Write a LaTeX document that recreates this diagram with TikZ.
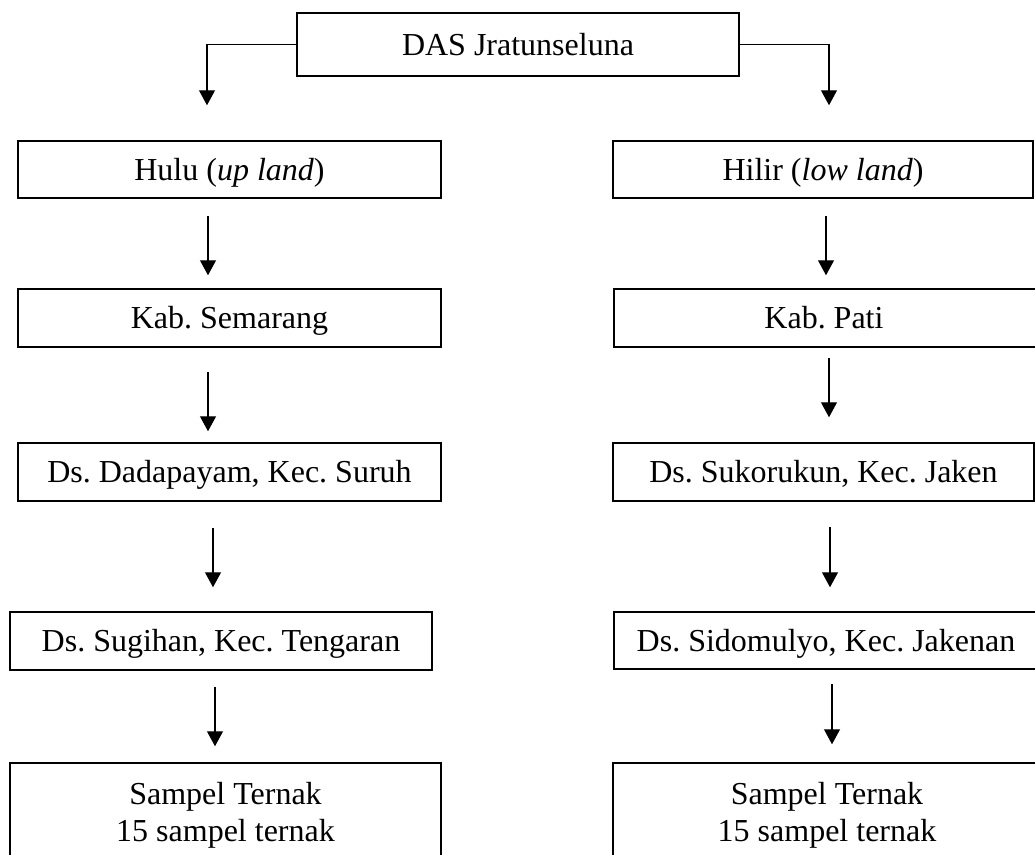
\documentclass[tikz,border=0pt]{standalone}
\usepackage{fontspec}
\setmainfont{Liberation Serif}
\usetikzlibrary{arrows.meta}
\begin{document}
\begin{tikzpicture}[x=1pt,y=-1pt,
  boxbase/.style={draw, line width=1.5pt, inner sep=0pt, align=center,
    font=\fontsize{32}{37}\selectfont\frenchspacing},
  box/.style={boxbase, text height=21pt, text depth=0pt},
  arr/.style={line width=1.2pt, -{Triangle[width=16pt,length=15pt]}}]
\useasboundingbox (0,0) rectangle (1035,854);
% boxes
\node[box, minimum width=442pt, minimum height=63pt] (top) at (518,44.5) {DAS Jratunseluna};
\node[box, minimum width=423pt, minimum height=57pt] (hulu) at (229.5,169.5) {Hulu (\textit{up land})};
\node[box, minimum width=420pt, minimum height=57pt] (hilir) at (823,169.5) {Hilir (\textit{low land})};
\node[box, minimum width=423pt, minimum height=58pt] (kabS) at (229.5,318) {Kab. Semarang};
\node[box, minimum width=424pt, minimum height=58pt] (kabP) at (826,318) {\hspace*{-4pt}Kab. Pati};
\node[box, minimum width=423pt, minimum height=58pt] (dadap) at (229.5,472) {Ds. Dadapayam, Kec. Suruh};
\node[box, minimum width=421pt, minimum height=58pt] (suko) at (823.5,472) {Ds. Sukorukun, Kec. Jaken};
\node[box, minimum width=422pt, minimum height=58pt] (sugi) at (221,641) {Ds. Sugihan, Kec. Tengaran};
\node[box, minimum width=426pt, minimum height=57pt] (sido) at (827,640.5) {\hspace*{-2pt}Ds. Sidomulyo, Kec. Jakenan};
\node[boxbase, minimum width=431pt, minimum height=105pt] (sampL) at (225.5,815.5) {Sampel Ternak\\15 sampel ternak};
\node[boxbase, minimum width=428pt, minimum height=105pt] (sampR) at (827,815.5) {Sampel Ternak\\15 sampel ternak};
% connectors from the top box
\draw[arr, shorten >=35pt] (top.west) -| ([xshift=-22.5pt]hulu.north);
\draw[arr, shorten >=35pt] (top.east) -| ([xshift=6pt]hilir.north);
% left column
\draw[arr, shorten <=17pt, shorten >=13pt] ([xshift=-21.5pt]hulu.south) -- ([xshift=-21.5pt]hulu.south |- kabS.north);
\draw[arr, shorten <=24pt, shorten >=11pt] ([xshift=-21.5pt]kabS.south) -- ([xshift=-21.5pt]kabS.south |- dadap.north);
\draw[arr, shorten <=26pt, shorten >=24pt] ([xshift=-16.5pt]dadap.south) -- ([xshift=-16.5pt]dadap.south |- sugi.north);
\draw[arr, shorten <=16pt, shorten >=16pt] ([xshift=-6pt]sugi.south) -- ([xshift=-6pt]sugi.south |- sampL.north);
% right column
\draw[arr, shorten <=17pt, shorten >=13pt] ([xshift=3pt]hilir.south) -- ([xshift=3pt]hilir.south |- kabP.north);
\draw[arr, shorten <=10pt, shorten >=25pt] ([xshift=3pt]kabP.south) -- ([xshift=3pt]kabP.south |- suko.north);
\draw[arr, shorten <=25pt, shorten >=24pt] ([xshift=6.5pt]suko.south) -- ([xshift=6.5pt]suko.south |- sido.north);
\draw[arr, shorten <=14pt, shorten >=18pt] ([xshift=5pt]sido.south) -- ([xshift=5pt]sido.south |- sampR.north);
\end{tikzpicture}
\end{document}
